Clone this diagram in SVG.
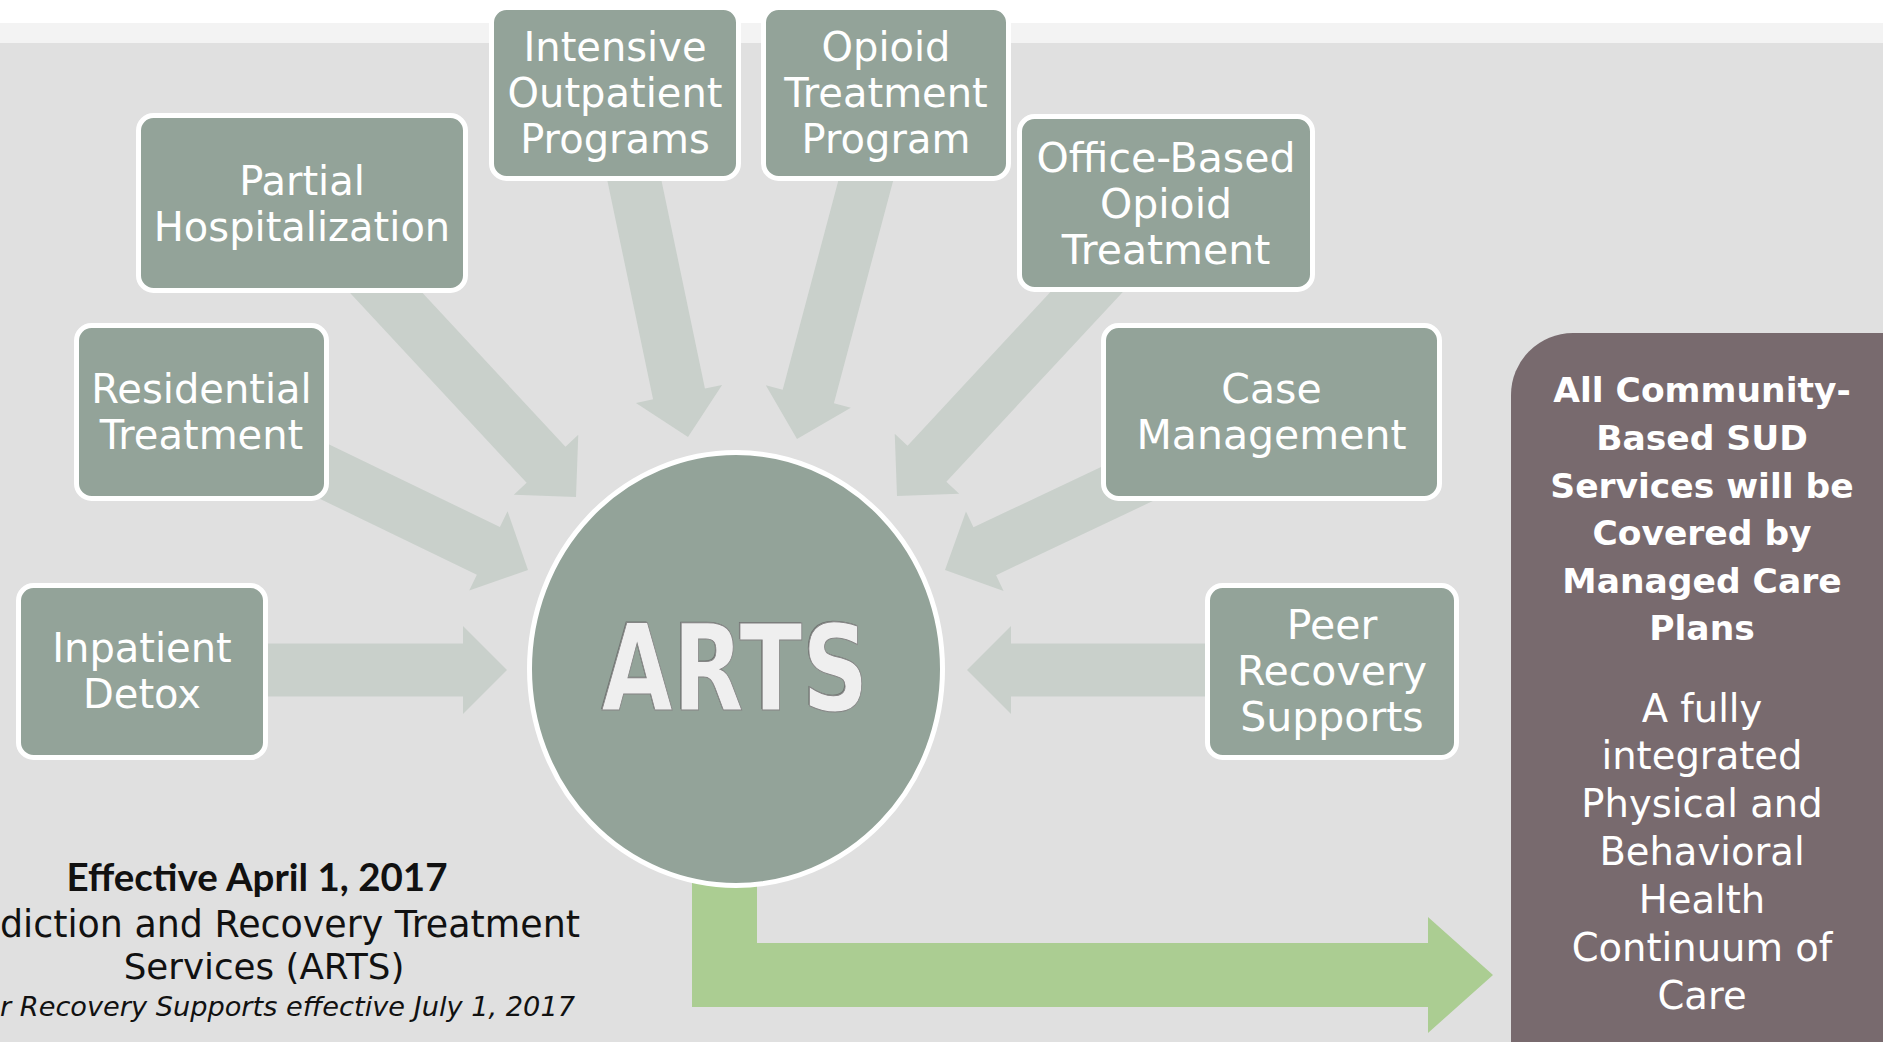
<svg xmlns="http://www.w3.org/2000/svg" width="1883" height="1042" viewBox="0 0 1883 1042">
<defs>
<style>
.box{fill:#93a399;stroke:#ffffff;stroke-width:5}
.arr{fill:#c9d0cb}
.t{font-family:"DejaVu Sans",sans-serif;fill:#ffffff;text-anchor:middle}
.g{font-size:40px}
.c{font-size:41px}
.pb{font-family:"DejaVu Sans",sans-serif;font-weight:bold;font-size:34.5px;fill:#ffffff;text-anchor:middle}
.pr{font-family:"DejaVu Sans",sans-serif;font-size:38.5px;fill:#ffffff;text-anchor:middle}
.note{font-family:"DejaVu Sans",sans-serif;fill:#111111}
.eff{font-family:Lato,"DejaVu Sans",sans-serif;font-weight:bold;font-size:38.5px;fill:#111111;text-anchor:middle}
.arts{font-family:"DejaVu Sans",sans-serif;font-weight:bold;font-size:119px;text-anchor:middle}
</style>
</defs>
<rect x="0" y="0" width="1883" height="1042" fill="#e0e0e0"/>
<rect x="0" y="0" width="1883" height="23" fill="#ffffff"/>
<rect x="0" y="23" width="1883" height="20" fill="#f3f3f3"/>

<g id="connectors">
<polygon class="arr" transform="translate(507,670)" points="-245,-26.5 -44,-26.5 -44,-44 0,0 -44,44 -44,26.5 -245,26.5"/>
<polygon class="arr" transform="translate(528,570) rotate(25.8)" points="-260,-26.5 -44,-26.5 -44,-44 0,0 -44,44 -44,26.5 -260,26.5"/>
<polygon class="arr" transform="translate(576,497) rotate(47.1)" points="-320,-26.5 -44,-26.5 -44,-44 0,0 -44,44 -44,26.5 -320,26.5"/>
<polygon class="arr" transform="translate(688,437) rotate(78.2)" points="-300,-26.5 -44,-26.5 -44,-44 0,0 -44,44 -44,26.5 -300,26.5"/>
<polygon class="arr" transform="translate(797,439) rotate(104.9)" points="-300,-26.5 -44,-26.5 -44,-44 0,0 -44,44 -44,26.5 -300,26.5"/>
<polygon class="arr" transform="translate(897,496) rotate(132.9)" points="-320,-26.5 -44,-26.5 -44,-44 0,0 -44,44 -44,26.5 -320,26.5"/>
<polygon class="arr" transform="translate(945,570) rotate(154.7)" points="-250,-26.5 -44,-26.5 -44,-44 0,0 -44,44 -44,26.5 -250,26.5"/>
<polygon class="arr" transform="translate(967,670) rotate(180)" points="-263,-26.5 -44,-26.5 -44,-44 0,0 -44,44 -44,26.5 -263,26.5"/>
<polygon fill="#abcd92" points="692,860 757,860 757,943 1428,943 1428,917 1493,975 1428,1033 1428,1007 692,1007"/>
</g>

<g id="inpatient-detox">
<rect class="box" x="18.5" y="585.5" width="247" height="172" rx="15"/>
<text class="t g" x="142" y="662">Inpatient</text>
<text class="t g" x="142" y="708">Detox</text>
</g>
<g id="residential-treatment">
<rect class="box" x="76.5" y="325.5" width="250" height="173" rx="15"/>
<text class="t g" x="201.5" y="403">Residential</text>
<text class="t g" x="201.5" y="449">Treatment</text>
</g>
<g id="partial-hospitalization">
<rect class="box" x="138.5" y="115.5" width="327" height="175" rx="15"/>
<text class="t g" x="302" y="195">Partial</text>
<text class="t g" x="302" y="241">Hospitalization</text>
</g>
<g id="intensive-outpatient">
<rect class="box" x="491.5" y="7.5" width="247" height="171" rx="15"/>
<text class="t g" x="615" y="61">Intensive</text>
<text class="t g" x="615" y="107">Outpatient</text>
<text class="t g" x="615" y="153">Programs</text>
</g>
<g id="opioid-treatment-program">
<rect class="box" x="763.5" y="7.5" width="245" height="171" rx="15"/>
<text class="t g" x="886" y="61">Opioid</text>
<text class="t g" x="886" y="107">Treatment</text>
<text class="t g" x="886" y="153">Program</text>
</g>
<g id="office-based-opioid-treatment">
<rect class="box" x="1019.5" y="116.5" width="293" height="173" rx="15"/>
<text class="t c" x="1166" y="172">Office-Based</text>
<text class="t c" x="1166" y="218">Opioid</text>
<text class="t c" x="1166" y="264">Treatment</text>
</g>
<g id="case-management">
<rect class="box" x="1103.5" y="325.5" width="336" height="173" rx="15"/>
<text class="t c" x="1271.5" y="403">Case</text>
<text class="t c" x="1271.5" y="449">Management</text>
</g>
<g id="peer-recovery-supports">
<rect class="box" x="1207.5" y="585.5" width="249" height="172" rx="15"/>
<text class="t c" x="1332" y="639">Peer</text>
<text class="t c" x="1332" y="685">Recovery</text>
<text class="t c" x="1332" y="731">Supports</text>
</g>

<g id="arts">
<ellipse cx="736" cy="669" rx="206.5" ry="216.5" fill="#93a399" stroke="#ffffff" stroke-width="5"/>
<text class="arts" x="734" y="708.5" textLength="267" lengthAdjust="spacingAndGlyphs" fill="#707572">ARTS</text>
<text class="arts" x="735" y="710" textLength="267" lengthAdjust="spacingAndGlyphs" fill="#efefef" stroke="#858585" stroke-width="1">ARTS</text>
</g>

<g id="managed-care">
<rect x="1511" y="333" width="460" height="800" rx="62" fill="#786a6e"/>
<text class="pb" x="1702" y="402">All Community-</text>
<text class="pb" x="1702" y="450">Based SUD</text>
<text class="pb" x="1702" y="498">Services will be</text>
<text class="pb" x="1702" y="545">Covered by</text>
<text class="pb" x="1702" y="593">Managed Care</text>
<text class="pb" x="1702" y="640">Plans</text>
<text class="pr" x="1702" y="722">A fully</text>
<text class="pr" x="1702" y="769">integrated</text>
<text class="pr" x="1702" y="817">Physical and</text>
<text class="pr" x="1702" y="865">Behavioral</text>
<text class="pr" x="1702" y="913">Health</text>
<text class="pr" x="1702" y="961">Continuum of</text>
<text class="pr" x="1702" y="1009">Care</text>
</g>

<g id="effective-note">
<text class="eff" x="257" y="891">Effective April 1, 2017</text>
<text class="note" x="580" y="937" font-size="36.4" text-anchor="end">diction and Recovery Treatment</text>
<text class="note" x="264" y="979" font-size="35.7" text-anchor="middle">Services (ARTS)</text>
<text class="note" x="575" y="1016" font-size="27.2" font-style="italic" text-anchor="end">r Recovery Supports effective July 1, 2017</text>
</g>
</svg>
